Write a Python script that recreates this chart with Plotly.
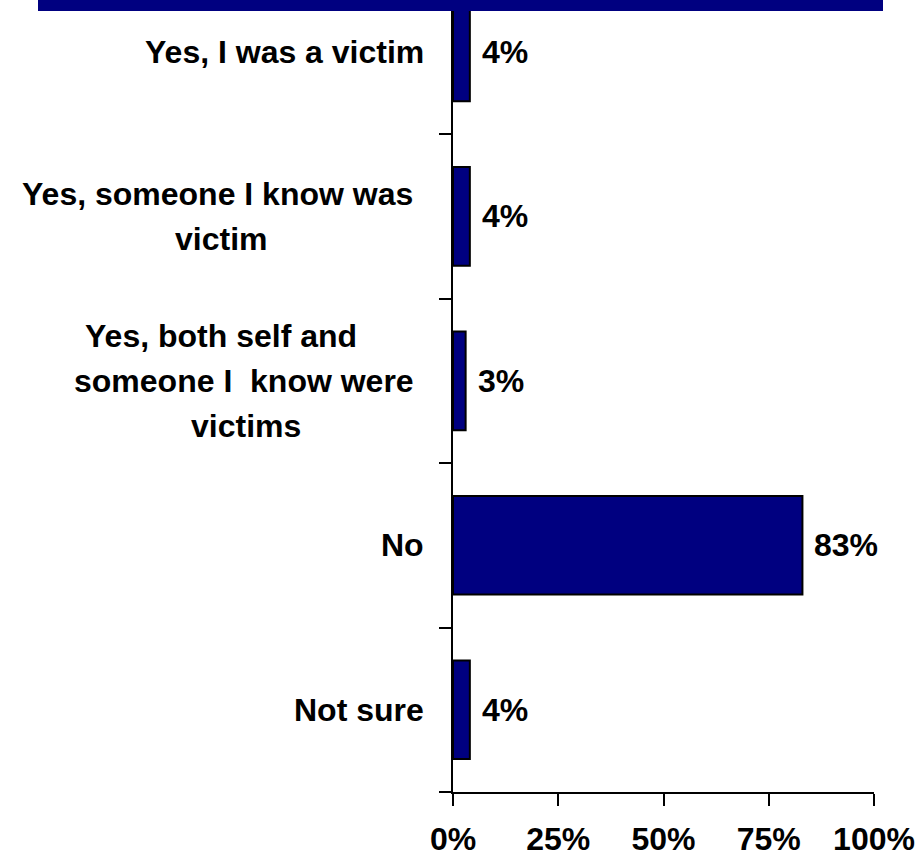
import plotly.graph_objects as go

# Survey responses, top to bottom
categories = [
    ["Yes, I was a victim"],
    ["Yes, someone I know was", "victim"],
    ["Yes, both self and", "someone I  know were", "victims"],
    ["No"],
    ["Not sure"],
]
values = [4, 4, 3, 83, 4]
value_labels = ["4%", "4%", "3%", "83%", "4%"]
x_ticks = [0, 25, 50, 75, 100]
x_tick_labels = ["0%", "25%", "50%", "75%", "100%"]

NAVY = "#000080"
FONT = "Liberation Sans, Arial, sans-serif"
FS = 32
LINE_GAP = 45

W, H = 920, 859
ML, MR, MT, MB = 453, 46, 0, 67
PW = W - ML - MR

positions = list(range(len(values)))

fig = go.Figure()
fig.add_trace(go.Bar(
    x=values,
    y=positions,
    orientation="h",
    width=0.6,
    marker=dict(color=NAVY, line=dict(color="black", width=2)),
    hoverinfo="skip",
))

annotations = []
# value labels to the right of each bar
for pos, v, lab in zip(positions, values, value_labels):
    annotations.append(dict(
        x=v, y=pos, xref="x", yref="y", text=lab, showarrow=False,
        xanchor="left", yanchor="middle", xshift=10,
        font=dict(family=FONT, size=FS, color="black", weight="bold"),
    ))

# category labels, one annotation per text line;
# wrapped labels use a horizontal centre (in px) for each line
line_centers = {1: [217, 221], 2: [221, 244, 246]}
for pos, lines in enumerate(categories):
    n = len(lines)
    for i, line in enumerate(lines):
        shift = -((i - (n - 1) / 2) * LINE_GAP)
        if n == 1:
            annotations.append(dict(
                x=0, y=pos, xref="x", yref="y", text=line, showarrow=False,
                xanchor="right", yanchor="middle", xshift=-27, yshift=shift,
                font=dict(family=FONT, size=FS, color="black", weight="bold"),
            ))
        else:
            cx = (line_centers[pos][i] - ML) / PW
            annotations.append(dict(
                x=cx, y=pos, xref="paper", yref="y", text=line, showarrow=False,
                xanchor="center", yanchor="middle", yshift=shift,
                font=dict(family=FONT, size=FS, color="black", weight="bold"),
            ))

# header band across the top
shapes = [dict(
    type="rect", xref="paper", yref="paper",
    x0=(38 - ML) / PW, x1=(883 - ML) / PW,
    y0=1 - 11 / (H - MT - MB), y1=1.02,
    fillcolor=NAVY, line=dict(width=0), layer="above",
)]

fig.update_layout(
    width=W, height=H,
    margin=dict(l=ML, r=MR, t=MT, b=MB, pad=0, autoexpand=False),
    paper_bgcolor="white", plot_bgcolor="white",
    showlegend=False,
    bargap=0.4,
    annotations=annotations,
    shapes=shapes,
    xaxis=dict(
        range=[0, 100], tickvals=x_ticks, ticktext=x_tick_labels,
        showline=True, linecolor="black", linewidth=2,
        ticks="outside", ticklen=12, tickwidth=2, tickcolor="black",
        showgrid=False, zeroline=False, ticklabelstandoff=6,
        automargin=False,
        tickfont=dict(family=FONT, size=FS, color="black", weight="bold"),
    ),
    yaxis=dict(
        range=[len(values) - 0.5, -0.315],
        tickvals=[p + 0.5 for p in positions],
        showticklabels=False,
        showline=True, linecolor="black", linewidth=2,
        ticks="outside", ticklen=12, tickwidth=2, tickcolor="black",
        showgrid=False, zeroline=False, automargin=False,
    ),
)

fig.write_html("out.html")
